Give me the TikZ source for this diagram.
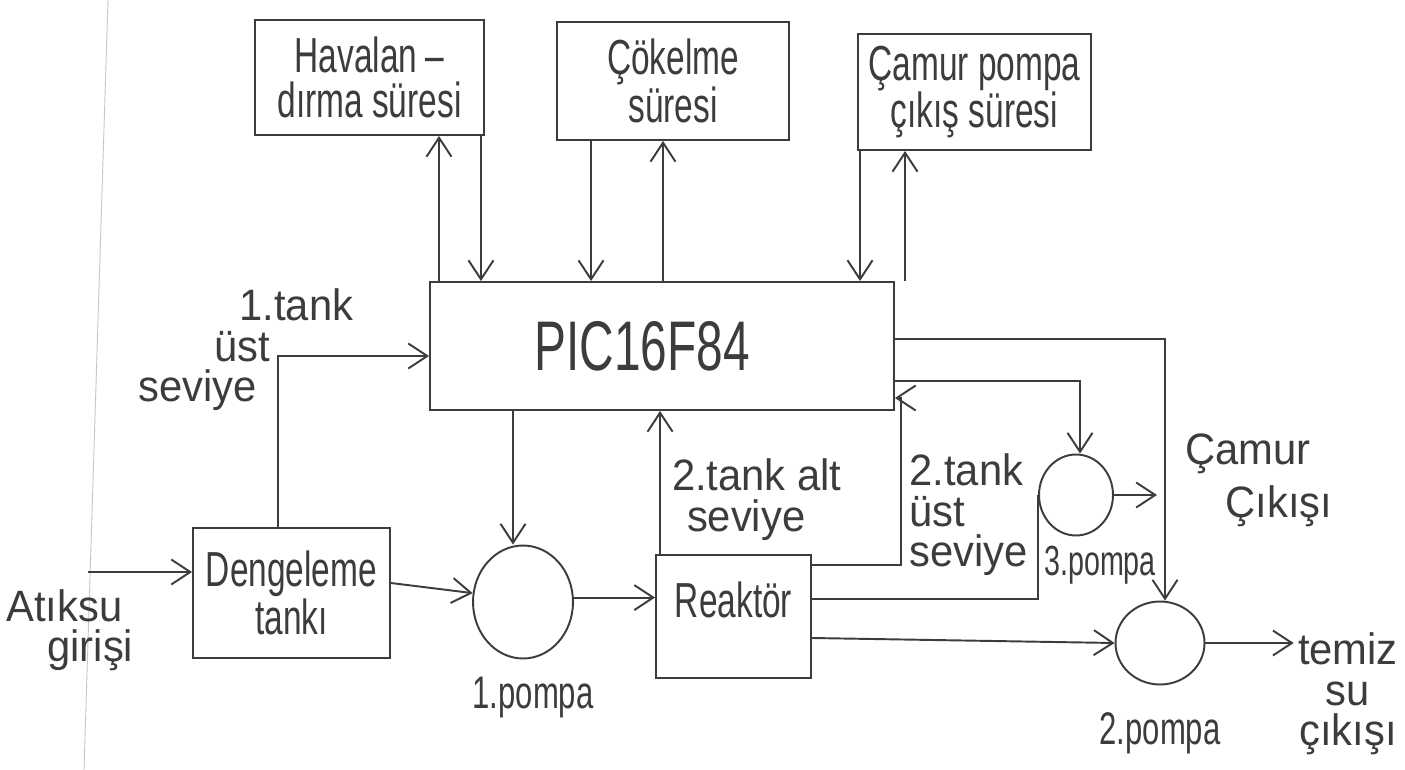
\documentclass[tikz,border=0pt]{standalone}
\usepackage{fontspec}
\setmainfont{Liberation Sans}[FakeStretch=0.68]
\newfontfamily\lblfamily{Liberation Sans}[FakeStretch=0.95]
\usepackage{xcolor}
\usepackage{tikz}
\usetikzlibrary{positioning, arrows.meta, shapes.geometric, calc}

\definecolor{ink}{HTML}{3C3C3C}
\newcommand{\boxfont}{\fontsize{28}{26}\selectfont}
\newcommand{\chipfont}{\fontsize{40}{44}\selectfont}
\newcommand{\lblfont}{\lblfamily\fontsize{25}{23}\selectfont}
\newcommand{\pumpfont}{\fontsize{26}{23}\selectfont}

\begin{document}
\begin{tikzpicture}[
			x=0.02cm, y=-0.02cm,
			color=ink, line width=1.1pt,
			box/.style={rectangle, draw, text centered, align=center, font=\boxfont, inner sep=2pt},
			pump/.style={ellipse, draw, inner sep=0pt},
			lbl/.style={font=\lblfont, align=left, inner sep=2pt},
			pumplbl/.style={font=\pumpfont, inner sep=2pt},
			arrow/.style={-{Straight Barb[length=3.8mm, width=5mm]}}
			]
			\useasboundingbox (0,0) rectangle (1405,770);
			\fill[white] (0,0) rectangle (1405,770);
			
			% margin of the page
			\draw[gray!45, line width=0.5pt] (108,0) -- (84,770);
			
			% Nodes
			\node[box, minimum width=4.58cm, minimum height=2.3cm] (hava) at (369.5,77.5) {Havalan\,–\\dırma süresi};
			\node[box, minimum width=4.64cm, minimum height=2.36cm] (cokelme) at (673,81) {Çökelme\\süresi};
			\node[box, minimum width=4.66cm, minimum height=2.32cm] (camur) at (974.5,92) {Çamur pompa\\çıkış süresi};
			
			\node[box, minimum width=9.28cm, minimum height=2.56cm, font=\chipfont] (pic) at (662,346) {PIC16F84\hspace*{0.8cm}};
			
			\node[box, minimum width=3.94cm, minimum height=2.6cm] (denge) at (291.5,593) {Dengeleme\\tankı};
			\node[box, minimum width=3.1cm, minimum height=2.46cm, text height=1.05cm, text depth=1.0cm, inner ysep=0.2cm] (reaktor) at (733.5,616.5) {Reaktör};
			
			\node[pump, minimum width=2.0cm, minimum height=2.26cm] (p1) at (523,602) {};
			\node[pump, minimum width=1.48cm, minimum height=1.62cm] (p3) at (1076,495) {};
			\node[pump, minimum width=1.78cm, minimum height=1.66cm] (p2) at (1160,643) {};
			
			\node[pumplbl, below=0.27cm of p1, xshift=0.2cm] (p1lbl) {1.pompa};
			\node[pumplbl, below=0.1cm of p3, xshift=0.48cm, font=\fontsize{24}{23}\selectfont] (p3lbl) {3.pompa};
			\node[pumplbl, below=0.45cm of p2] (p2lbl) {2.pompa};
			
			\node[lbl, anchor=west] (atik) at (2,630) {Atıksu\\\hspace*{0.82cm}girişi};
			\node[lbl, anchor=west] (tank1) at (134,350) {\hspace*{2.02cm}1.tank\\\hspace*{1.52cm}üst\\seviye};
			\node[lbl, anchor=west] (camurcikis) at (1181,480) {Çamur\\[0.2cm]\hspace*{0.8cm}Çıkışı};
			\node[lbl, align=center] (temiz) at (1348,694) {temiz\\su\\çıkışı};
			
			\coordinate (giris) at (88,572);
			\coordinate[right=0.86cm of p3] (camout);
			
			\coordinate (haUp) at ([xshift=1.39cm]hava.south);
			\coordinate (haDown) at ([xshift=2.23cm]hava.south);
			\coordinate (coDown) at ([xshift=-1.64cm]cokelme.south);
			\coordinate (coUp) at ([xshift=-0.2cm]cokelme.south);
			\coordinate (caDown) at ([xshift=-2.29cm]camur.south);
			\coordinate (caUp) at ([xshift=-1.39cm]camur.south);
			\coordinate (p1top) at ([xshift=-0.2cm]p1.north);
			\coordinate (rkUp) at ([xshift=0.1cm]reaktor.north west);
			
			% Arrows
			\draw[arrow] (haUp |- pic.north) -- (haUp);
			\draw[arrow] (haDown) -- (haDown |- pic.north);
			\draw[arrow] (coDown) -- (coDown |- pic.north);
			\draw[arrow] (coUp |- pic.north) -- (coUp);
			\draw[arrow] (caDown) -- (caDown |- pic.north);
			\draw[arrow] (caUp |- pic.north) -- (caUp);
			
			\draw[arrow] (giris) -- (giris -| denge.west);
			\draw[arrow] ([xshift=-0.27cm]denge.north) |- ([yshift=-0.2cm]pic.west);
			\draw[arrow] ([yshift=0.2cm]denge.east) -- (p1.170);
			\draw[arrow] (pic.south -| p1top) -- (p1top);
			\draw[arrow] (p1.5) -- (p1.5 -| reaktor.west);
			
			\draw[arrow] (rkUp) -- (rkUp |- pic.south) node[lbl, pos=0.38, right, xshift=0.15cm] {2.tank alt\\\hspace*{0.3cm}seviye};
			\draw[arrow] ([yshift=1.03cm]reaktor.east) -- ++(1.78cm,0) |- node[lbl, pos=0.15, right, xshift=0.08cm] {2.tank\\üst\\seviye} ([yshift=-1.04cm]pic.east);
			\draw ([yshift=0.35cm]reaktor.east) -| (p3.west);
			\draw[arrow] ([yshift=-0.43cm]reaktor.east) -- (p2.west);
			
			\draw[arrow] ([yshift=-0.7cm]pic.east) -| ([xshift=0.08cm]p3.north);
			\draw[arrow] ([yshift=0.14cm]pic.east) -| ([xshift=0.1cm]p2.north);
			
			\draw[arrow] (p3.east) -- (camout);
			\draw[arrow] (p2.east) -- (p2.east -| temiz.west);
			
		\end{tikzpicture}
\end{document}
